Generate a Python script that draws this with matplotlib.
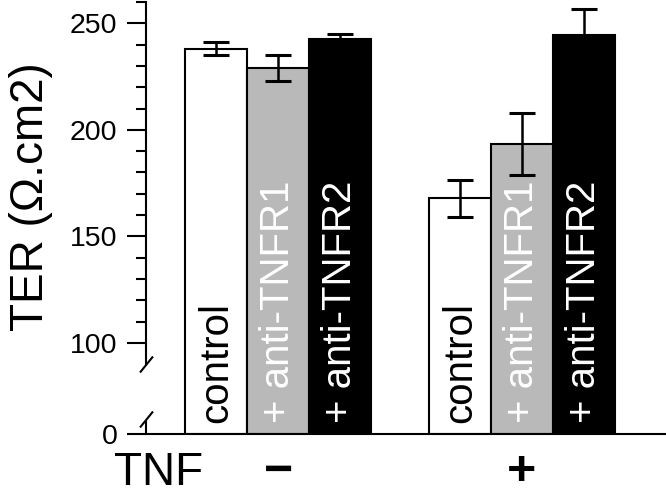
import numpy as np
import matplotlib
matplotlib.use("Agg")
import matplotlib.pyplot as plt
from matplotlib.ticker import FixedLocator, FormatStrFormatter
from matplotlib.transforms import blended_transform_factory

plt.rcParams['font.family'] = ['Liberation Sans', 'DejaVu Sans']

# ---- data ----
tnf_groups = ['\u2212', '+']
treatments = ['control', '+ anti-TNFR1', '+ anti-TNFR2']
means_minus = [238.0, 229.0, 242.6]
err_minus = [3.0, 6.1, 2.5]
means_plus = [167.8, 193.3, 244.5]
err_plus = [8.7, 14.4, 12.1]
yticks_major = [0, 100, 150, 200, 250]
yticks_minor = list(range(100, 261, 10))

bar_colors = ['white', '#b9b9b9', 'black']
text_colors = ['black', 'white', 'white']

# ---- broken-axis scale (0..100 compressed) ----
K = 0.428


def fwd(v):
    v = np.asarray(v, dtype=float)
    return np.where(v >= 100, v, 100 - (100 - v) * K)


def inv(u):
    u = np.asarray(u, dtype=float)
    return np.where(u >= 100, u, 100 - (100 - u) / K)


fig = plt.figure(figsize=(6.66, 4.95), dpi=100)
ax = fig.add_axes([0.21922, 0.12323, 0.77928, 0.87273])
ax.set_yscale('function', functions=(fwd, inv))
ax.set_ylim(0, 260)
ax.set_xlim(-1.125, 7.22)

GROUP_STEP = 3.92
LW = 1.5
for gi, (means, errs) in enumerate([(means_minus, err_minus), (means_plus, err_plus)]):
    x = gi * GROUP_STEP + np.arange(len(treatments))
    ax.bar(x, means, width=1.0, color=bar_colors, edgecolor='black',
           linewidth=LW, zorder=2)
    ax.errorbar(x, means, yerr=errs, fmt='none', ecolor='black',
                elinewidth=1.8, capsize=9.5, capthick=2.2, zorder=3)
    for xi, lab, tc in zip(x, treatments, text_colors):
        ax.text(xi, 12, lab, rotation=90, ha='center', va='bottom',
                fontsize=29, color=tc, zorder=4)

# ticks
ax.yaxis.set_major_locator(FixedLocator(yticks_major))
ax.yaxis.set_minor_locator(FixedLocator(yticks_minor))
ax.yaxis.set_major_formatter(FormatStrFormatter('%d'))
ax.yaxis.set_minor_formatter(plt.NullFormatter())
ax.tick_params(axis='y', which='major', direction='out', length=13.7,
               width=LW, labelsize=20.5, pad=7)
ax.tick_params(axis='y', which='minor', direction='out', length=7.2, width=LW)
ax.set_xticks([])

# spines
ax.spines['top'].set_visible(False)
ax.spines['right'].set_visible(False)
ax.spines['left'].set_linewidth(LW)
ax.spines['bottom'].set_linewidth(LW)
ax.spines['left'].set_bounds(77, 260)
ytr = ax.get_yaxis_transform()
ax.plot([0, 0], [0, 15], transform=ytr, color='black', lw=LW,
        clip_on=False, solid_capstyle='butt')
ax.plot([0, 0], [77, 17], transform=ytr, marker=[(-13, -16), (13, 16)],
        ms=11.5, mew=LW, mec='black', ls='none', clip_on=False)

# labels
ax.set_ylabel('TER (\u03a9.cm2)', fontsize=33)
ax.yaxis.set_label_coords(-0.18, 0.549)

fig.text(159 / 666, 0.0, 'TNF', fontsize=33, ha='center', va='bottom')
btr = blended_transform_factory(ax.transData, fig.transFigure)
for gi, sym in enumerate(tnf_groups):
    ax.text(gi * GROUP_STEP + 1, 0.0, sym, transform=btr,
            ha='center', va='bottom', fontsize=36, fontweight='bold')

fig.savefig('out.png', dpi=100)
